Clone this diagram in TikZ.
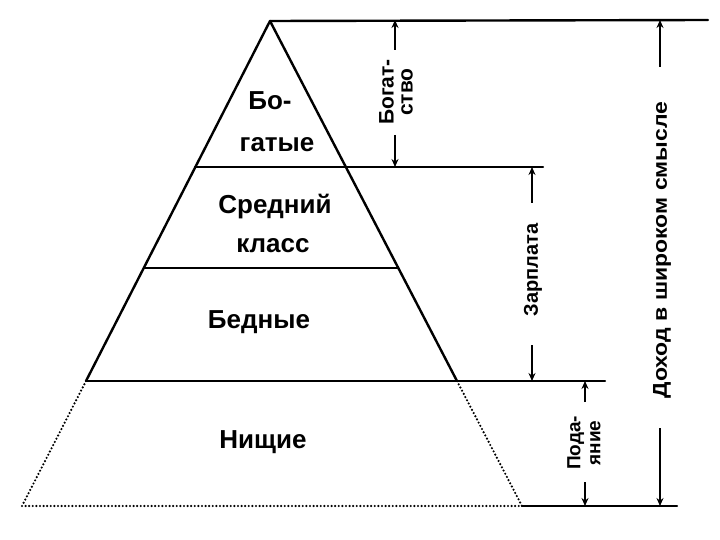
\documentclass[tikz,border=0pt]{standalone}
\usepackage{fontspec}
\setmainfont{Liberation Sans}
\newfontfamily\widefont{Liberation Sans}[FakeStretch=1.15]
\usetikzlibrary{arrows.meta}
\begin{document}
\begin{tikzpicture}[x=1pt,y=-1pt,
  mainline/.style={line width=2.4pt, line cap=round, line join=round},
  dotline/.style={line width=2.4pt, line cap=round, dash pattern=on 0pt off 3.6pt},
  dimline/.style={line width=1.3pt, -{Stealth[length=8pt,width=7pt]}},
  lbl/.style={font=\bfseries\fontsize{26}{30}\selectfont, inner sep=0pt, anchor=base},
  side/.style={font=\bfseries\fontsize{20}{19}\selectfont, inner sep=0pt, rotate=90, align=center},
  sidewide/.style={font=\widefont\bfseries\fontsize{20}{19}\selectfont, inner sep=0pt, rotate=90, align=center},
  sidesmall/.style={font=\bfseries\fontsize{19}{20}\selectfont, inner sep=0pt, rotate=90, align=center}]
\useasboundingbox (0,0) rectangle (720,540);
% pyramid points
\coordinate (apex) at (270,21);
\coordinate (l1) at (195,167); \coordinate (r1) at (346,167);
\coordinate (l2) at (144,268); \coordinate (r2) at (398,268);
\coordinate (l3) at (86,381);  \coordinate (r3) at (457,381);
\coordinate (l4) at (22,506);  \coordinate (r4) at (522,506);
% line ends to the right
\coordinate (t0) at (708,20);
\coordinate (e1) at (543,167);
\coordinate (e3) at (605,381);
\coordinate (e4) at (677,506);
% pyramid
\draw[mainline] (l3) -- (apex) -- (r3);
\draw[mainline] (apex) -- (t0);
\draw[mainline] (l1) -- (e1);
\draw[mainline] (l2) -- (r2);
\draw[mainline] (l3) -- (e3);
\draw[mainline] (r4) -- (e4);
\draw[dotline] (l3) -- (l4) -- (r4) -- (r3);
% labels inside
\node[lbl] (rich1) at (270,110) {Бо-};
\node[lbl] (rich2) at (277,152) {гатые};
\node[lbl] (mid1) at (275,214) {Средний};
\node[lbl] (mid2) at (273,252) {класс};
\node[lbl] (poor) at (259,328) {Бедные};
\node[lbl] (beg) at (263,448) {Нищие};
% dimension: Богатство
\coordinate (b1) at (395,50); \coordinate (b1t) at (395,20);
\coordinate (b2) at (395,135); \coordinate (b2t) at (395,167);
\draw[dimline] (b1) -- (b1t);
\draw[dimline] (b2) -- (b2t);
\node[side, font=\bfseries\fontsize{21}{19}\selectfont] (wealth) at (396,92) {Богат-\\ство};
% dimension: Зарплата
\coordinate (z1) at (532,203); \coordinate (z1t) at (532,167);
\coordinate (z2) at (532,345); \coordinate (z2t) at (532,381);
\draw[dimline] (z1) -- (z1t);
\draw[dimline] (z2) -- (z2t);
\node[side] (salary) at (533,270) {Зарплата};
% dimension: Подаяние
\coordinate (p1) at (585,402); \coordinate (p1t) at (585,381);
\coordinate (p2) at (585,482); \coordinate (p2t) at (585,506);
\draw[dimline] (p1) -- (p1t);
\draw[dimline] (p2) -- (p2t);
\node[sidesmall] (alms) at (584,443) {Пода-\\яние};
% dimension: Доход в широком смысле
\coordinate (d1) at (660,67); \coordinate (d1t) at (660,20);
\coordinate (d2) at (660,428); \coordinate (d2t) at (660,506);
\draw[dimline] (d1) -- (d1t);
\draw[dimline] (d2) -- (d2t);
\node[sidewide] (income) at (662,250) {Доход в широком смысле};
\end{tikzpicture}
\end{document}
